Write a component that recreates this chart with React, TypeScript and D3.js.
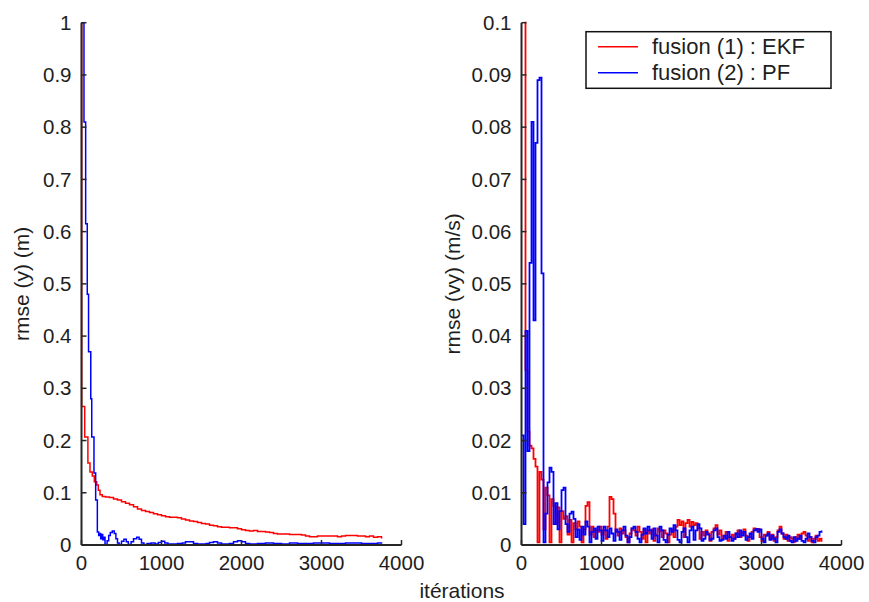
import React from "react";
import * as d3 from "d3";

// ---- Left panel: rmse (y) (m), [iteration, value]
const ekfLeft: [number, number][] = [
  [0, 1.0], [2, 0.265], [40, 0.207], [80, 0.157], [106, 0.14], [135, 0.132], [160, 0.121],
  [190, 0.115], [210, 0.105], [231, 0.096], [260, 0.093], [300, 0.092], [350, 0.091],
  [400, 0.088], [450, 0.086], [500, 0.083], [550, 0.08], [600, 0.077], [650, 0.073],
  [700, 0.069], [750, 0.066], [800, 0.064], [850, 0.062], [900, 0.06], [950, 0.058],
  [1000, 0.056], [1050, 0.054], [1100, 0.053], [1150, 0.053], [1200, 0.052], [1250, 0.05],
  [1300, 0.048], [1350, 0.046], [1400, 0.045], [1450, 0.043], [1500, 0.041], [1550, 0.04],
  [1600, 0.038], [1650, 0.037], [1700, 0.035], [1750, 0.034], [1800, 0.034], [1850, 0.033],
  [1900, 0.033], [1950, 0.031], [2000, 0.029], [2050, 0.028], [2100, 0.027], [2150, 0.028],
  [2200, 0.026], [2250, 0.026], [2300, 0.025], [2350, 0.024], [2400, 0.022], [2450, 0.021],
  [2500, 0.021], [2550, 0.021], [2600, 0.02], [2650, 0.02], [2700, 0.02], [2750, 0.019],
  [2800, 0.017], [2850, 0.016], [2900, 0.016], [2950, 0.017], [3000, 0.017], [3050, 0.017],
  [3100, 0.017], [3150, 0.017], [3200, 0.016], [3250, 0.017], [3300, 0.018], [3350, 0.018],
  [3400, 0.018], [3450, 0.017], [3500, 0.017], [3550, 0.016], [3600, 0.017], [3650, 0.015],
  [3700, 0.016], [3750, 0.014], [3760, 0.014],
];

const pfLeft: [number, number][] = [
  [0, 1.0], [31, 0.81], [52, 0.615], [72, 0.48], [88, 0.37], [116, 0.28], [128, 0.207],
  [156, 0.138], [177, 0.086], [198, 0.025], [215, 0.018], [228, 0.022], [240, 0.012],
  [252, 0.02], [265, 0.01], [280, 0.015], [294, 0.001], [320, 0.008], [340, 0.018],
  [360, 0.024], [385, 0.027], [410, 0.022], [430, 0.012], [450, 0.004], [470, 0.001],
  [500, 0.007], [530, 0.011], [560, 0.006], [585, 0.001], [620, 0.006], [650, 0.012],
  [690, 0.015], [720, 0.011], [750, 0.004], [780, 0.001], [820, 0.003], [870, 0.004],
  [920, 0.002], [960, 0.005], [1000, 0.007], [1040, 0.004], [1080, 0.002], [1150, 0.002],
  [1200, 0.003], [1260, 0.004], [1300, 0.006], [1350, 0.006], [1400, 0.003], [1450, 0.002],
  [1500, 0.002], [1560, 0.003], [1600, 0.005], [1650, 0.006], [1700, 0.004], [1750, 0.002],
  [1800, 0.002], [1850, 0.003], [1900, 0.006], [1950, 0.008], [2000, 0.006], [2050, 0.003],
  [2100, 0.002], [2200, 0.003], [2300, 0.004], [2400, 0.003], [2500, 0.002], [2600, 0.004],
  [2700, 0.003], [2800, 0.003], [2900, 0.004], [3000, 0.004], [3100, 0.003], [3200, 0.003],
  [3300, 0.004], [3400, 0.004], [3500, 0.003], [3600, 0.003], [3700, 0.004], [3760, 0.004],
];

// ---- Right panel: rmse (vy) (m/s), sampled every STEP iterations
const STEP = 25;
const ekfRight: (number | null)[] = [
  null, 0.15, 0.0335, 0.0217, 0.019, 0.0185, 0.0165, 0.015, 0.0005, 0.014,
  0.0125, 0.003, 0.011, 0.0095, 0.0005, 0.0088, 0.0075, 0.004, 0.0072, 0.0005,
  0.0065, 0.005, 0.0055, 0.002, 0.0048, 0.0005, 0.0042, 0.003, 0.0045, 0.0035,
  0.0005, 0.003, 0.0075, 0.0082, 0.002, 0.0035, 0.0015, 0.003, 0.0025, 0.0035,
  0.002, 0.0028, 0.0012, 0.0035, 0.0092, 0.0088, 0.006, 0.0025, 0.0018, 0.0032,
  0.0022, 0.0028, 0.0015, 0.0005, 0.0022, 0.0032, 0.0028, 0.0018, 0.0035, 0.0025,
  0.0012, 0.003, 0.0005, 0.0028, 0.0022, 0.003, 0.0008, 0.002, 0.0032, 0.0026,
  0.0015, 0.0028, 0.0022, 0.0005, 0.002, 0.003, 0.0015, 0.0035, 0.0048, 0.0038,
  0.0045, 0.0015, 0.0042, 0.0048, 0.0035, 0.0044, 0.0038, 0.0042, 0.0032, 0.0012,
  0.0025, 0.0018, 0.0028, 0.0022, 0.0008, 0.0025, 0.0032, 0.0038, 0.002, 0.0028,
  0.0012, 0.0018, 0.0025, 0.0008, 0.0015, 0.002, 0.0012, 0.0022, 0.0028, 0.0015,
  0.0024, 0.003, 0.0018, 0.0008, 0.0015, 0.0025, 0.0032, 0.0028, 0.0031, 0.0015,
  0.0008, 0.002, 0.0018, 0.0025, 0.0012, 0.002, 0.0008, 0.0015, 0.0028, 0.0035,
  0.0022, 0.0012, 0.002, 0.0008, 0.0015, 0.0012, 0.0006, 0.0015, 0.002, 0.0012,
  0.0022, 0.0025, 0.0018, 0.0008, 0.0015, 0.0005, 0.0012, 0.0018, 0.0008, 0.0012,
  0.0006,
];
const pfRight: (number | null)[] = [
  0.021, 0.004, 0.041, 0.018, 0.054, 0.081, 0.043, 0.077, 0.089, 0.0895,
  0.052, 0.0005, 0.006, 0.012, 0.0148, 0.014, 0.004, 0.008, 0.003, 0.0065,
  0.0105, 0.011, 0.004, 0.0025, 0.006, 0.0064, 0.005, 0.0015, 0.003, 0.001,
  0.0035, 0.002, 0.0045, 0.0035, 0.0005, 0.0025, 0.0032, 0.0012, 0.0035, 0.0028,
  0.0008, 0.0035, 0.0028, 0.0015, 0.0032, 0.0022, 0.0008, 0.003, 0.0025, 0.001,
  0.0028, 0.0035, 0.0018, 0.0005, 0.0015, 0.0032, 0.0035, 0.0025, 0.0012, 0.0005,
  0.002, 0.0032, 0.0022, 0.0035, 0.0028, 0.0012, 0.0032, 0.0018, 0.0005, 0.0035,
  0.0028, 0.001, 0.0005, 0.002, 0.0032, 0.0025, 0.0038, 0.0028, 0.001, 0.0005,
  0.0025, 0.0032, 0.0015, 0.0005, 0.0028, 0.0035, 0.001, 0.0028, 0.004, 0.0032,
  0.0008, 0.0012, 0.0025, 0.002, 0.001, 0.0012, 0.0028, 0.0032, 0.0015, 0.0008,
  0.001, 0.0018, 0.0012, 0.0025, 0.0015, 0.0008, 0.0012, 0.0022, 0.0015, 0.0028,
  0.0018, 0.0025, 0.001, 0.0015, 0.0022, 0.0012, 0.0028, 0.0031, 0.0025, 0.003,
  0.0012, 0.0005, 0.0018, 0.0022, 0.001, 0.0018, 0.0012, 0.0005, 0.0025, 0.003,
  0.0022, 0.0015, 0.0012, 0.0018, 0.0008, 0.0005, 0.0015, 0.0008, 0.0012, 0.0018,
  0.0008, 0.0005, 0.0012, 0.0022, 0.0015, 0.0008, 0.0005, 0.0015, 0.0018, 0.0025,
  0.0028,
];

const xTicks = [0, 1000, 2000, 3000, 4000];
const yTicksLeft = [0, 0.1, 0.2, 0.3, 0.4, 0.5, 0.6, 0.7, 0.8, 0.9, 1];
const yTicksRight = [0, 0.01, 0.02, 0.03, 0.04, 0.05, 0.06, 0.07, 0.08, 0.09, 0.1];
const legendLabels = ["fusion (1) : EKF", "fusion (2) : PF"];
const colors = ["#ff0000", "#0000ff"];

const FONT = "'Liberation Sans', Arial, Helvetica, sans-serif";
const TXT = "#1e1e1e";
const AX = "#262626";

function Panel({ id, x, y, yTicks, yLabel, labelX, series, lw }: any) {
  const [x0, x1] = x.range();
  const [y0, y1] = y.range();
  return (
    <g>
      <defs>
        <clipPath id={id}>
          <rect x={x0 - 2} y={y1 - 1} width={x1 - x0 + 4} height={y0 - y1 + 2} />
        </clipPath>
      </defs>
      <g clipPath={`url(#${id})`}>
        {series.map((s: any, i: number) => {
          const line = d3
            .line<[number, number | null]>()
            .defined((d) => d[1] != null)
            .x((d) => x(d[0]))
            .y((d) => y(d[1] as number))
            .curve(d3.curveStepAfter);
          return (
            <path key={i} d={line(s) || ""} fill="none" stroke={colors[i]} strokeWidth={lw} />
          );
        })}
      </g>
      {/* axes */}
      <line x1={x0} x2={x0} y1={y0} y2={y1} stroke={AX} strokeWidth={2} />
      <line x1={x0} x2={x1} y1={y0} y2={y0} stroke={AX} strokeWidth={2} />
      {yTicks.map((t: number) => (
        <g key={"y" + t}>
          <line x1={x0} x2={x0 + 5} y1={y(t)} y2={y(t)} stroke={AX} strokeWidth={1.5} />
          <text x={x0 - 10} y={y(t)} dy="0.35em" textAnchor="end" fontSize={20.5} fill={TXT} fontFamily={FONT}>
            {String(t)}
          </text>
        </g>
      ))}
      {xTicks.map((t: number) => (
        <g key={"x" + t}>
          <line x1={x(t)} x2={x(t)} y1={y0} y2={y0 - 5} stroke={AX} strokeWidth={1.5} />
          <text x={x(t)} y={y0 + 25} textAnchor="middle" fontSize={20.5} fill={TXT} fontFamily={FONT}>
            {String(t)}
          </text>
        </g>
      ))}
      <text
        transform={`translate(${labelX},${(y0 + y1) / 2}) rotate(-90)`}
        textAnchor="middle"
        fontSize={21}
        fill={TXT}
        fontFamily={FONT}
      >
        {yLabel}
      </text>
    </g>
  );
}

export default function App() {
  const xL = d3.scaleLinear().domain([0, 4000]).range([81.5, 401.5]);
  const yL = d3.scaleLinear().domain([0, 1]).range([545, 22.7]);
  const xR = d3.scaleLinear().domain([0, 4000]).range([521.5, 841.5]);
  const yR = d3.scaleLinear().domain([0, 0.1]).range([545, 22.7]);

  const ekfR = ekfRight.map((v, i) => [i * STEP, v]);
  const pfR = pfRight.map((v, i) => [i * STEP, v]);

  const lg = { x: 586, y: 31.7, w: 245, h: 56.6 };

  return (
    <svg
      width={869}
      height={602}
      style={{ position: "absolute", left: 0, top: 0, background: "#fff" }}
    >
      <rect width={869} height={602} fill="#fff" />
      <Panel id="clipL" x={xL} y={yL} yTicks={yTicksLeft} yLabel="rmse (y) (m)" labelX={29} series={[ekfLeft, pfLeft]} lw={1.5} />
      <Panel id="clipR" x={xR} y={yR} yTicks={yTicksRight} yLabel="rmse (vy) (m/s)" labelX={460} series={[ekfR, pfR]} lw={1.8} />
      <text x={462} y={598} textAnchor="middle" fontSize={21} fill={TXT} fontFamily={FONT}>
        itérations
      </text>
      {/* legend */}
      <rect x={lg.x} y={lg.y} width={lg.w} height={lg.h} fill="#fff" stroke="#111" strokeWidth={1.5} />
      {legendLabels.map((l, i) => (
        <g key={l}>
          <line x1={598} x2={638} y1={46.7 + i * 26} y2={46.7 + i * 26} stroke={colors[i]} strokeWidth={1.5} />
          <text x={652} y={54.3 + i * 26} fontSize={22} fill={TXT} fontFamily={FONT}>
            {l}
          </text>
        </g>
      ))}
    </svg>
  );
}
